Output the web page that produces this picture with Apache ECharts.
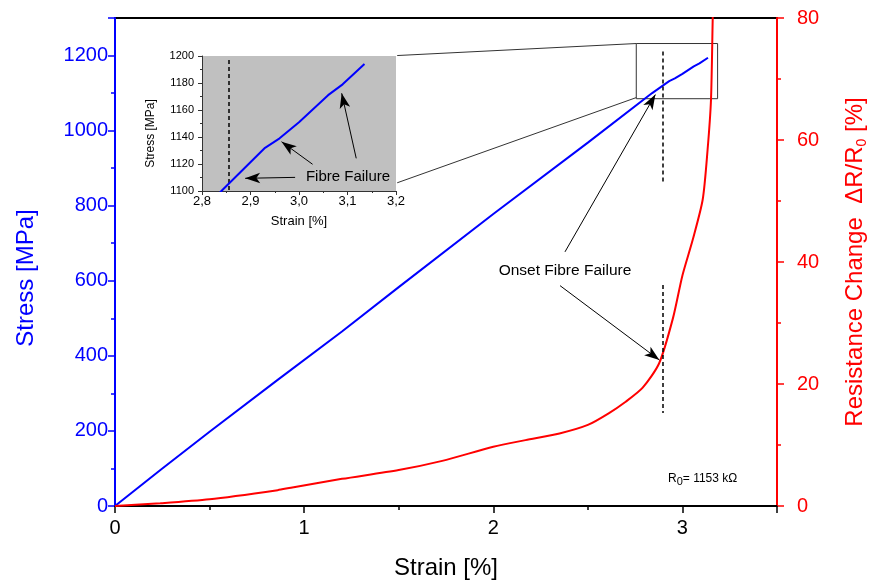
<!DOCTYPE html>
<html>
<head>
<meta charset="utf-8">
<script src="https://cdn.jsdelivr.net/npm/echarts@6/dist/echarts.min.js"></script>
<style>
  html, body { margin: 0; padding: 0; background: #fff; }
  #chart { width: 869px; height: 586px; }
</style>
</head>
<body>
<div id="chart"></div>
<script>
// stress curve (blue), strain in %, stress in MPa
const stressStrain = [0, 0.24, 0.5, 0.86, 1.2, 1.5, 2.0, 2.5, 2.84, 2.93, 2.96, 3.0, 3.06, 3.09, 3.135];
const stressValues = [0, 96, 198, 336, 465, 583, 778, 968, 1100, 1132, 1139, 1151, 1171, 1179, 1194];

// resistance change curve (red), dR/R0 in %
const resStrain = [0, 0.24, 0.5, 0.86, 0.93, 1.2, 1.5, 1.73, 2.0, 2.17, 2.35, 2.5, 2.61, 2.7, 2.79, 2.877, 2.95, 3.0, 3.054, 3.107, 3.133, 3.151, 3.16, 3.163];
const resValues = [0, 0.45, 1.1, 2.6, 3.0, 4.45, 5.9, 7.4, 9.7, 10.8, 11.9, 13.3, 15.2, 17.1, 19.4, 23.4, 30.8, 37.8, 43.6, 50.2, 58.4, 66.6, 79.7, 84];

const zip = (xs, ys) => xs.map((x, i) => [x, ys[i]]);

const FONT = 'Liberation Sans, Arial, sans-serif';
const BLUE = '#0000ff';
const RED = '#ff0000';

const chart = echarts.init(document.getElementById('chart'));

// helper for markLine segments (arrow at the end or plain)
function seg(a, b, arrow, style) {
    return [
        { coord: a, symbol: 'none' },
        { coord: b, symbol: arrow ? 'arrow' : 'none', symbolSize: [8, 15], lineStyle: style }
    ];
}
const arrowStyle = { color: '#000', width: 1, type: 'solid' };
const dashStyle = { color: '#000', width: 1.5, type: [4, 3] };
const thinStyle = { color: '#333', width: 1, type: 'solid' };
const plain = v => String(v);

const option = {
    animation: false,
    backgroundColor: '#fff',
    textStyle: { fontFamily: FONT },
    grid: [
        { left: 115, right: 92, top: 18, bottom: 80, outerBoundsMode: 'none', show: true, borderColor: '#000', borderWidth: 2, backgroundColor: 'transparent' },
        { left: 202, top: 56, width: 194, height: 135, outerBoundsMode: 'none', show: true, borderWidth: 0, backgroundColor: '#c0c0c0' }
    ],
    xAxis: [
        {
            gridIndex: 0, type: 'value', min: 0, max: 3.5, interval: 1,
            name: 'Strain [%]', nameLocation: 'middle', nameGap: 50,
            nameTextStyle: { fontSize: 24, color: '#000', fontFamily: FONT },
            axisLine: { lineStyle: { color: '#000', width: 2 } },
            axisTick: { inside: false, length: 7, lineStyle: { color: '#000', width: 1.5 } },
            minorTick: { show: true, splitNumber: 2, length: 4, lineStyle: { color: '#000', width: 1.5 } },
            splitLine: { show: false },
            axisLabel: { fontSize: 20, color: '#000', margin: 12, showMaxLabel: false, fontFamily: FONT, formatter: plain }
        },
        {
            gridIndex: 1, type: 'value', min: 2.8, max: 3.2, interval: 0.1,
            name: 'Strain [%]', nameLocation: 'middle', nameGap: 24,
            nameTextStyle: { fontSize: 13, color: '#000', fontFamily: FONT },
            axisLine: { lineStyle: { color: '#333', width: 1 } },
            axisTick: { length: 4, lineStyle: { color: '#333', width: 1 } },
            minorTick: { show: true, splitNumber: 2, length: 2, lineStyle: { color: '#333' } },
            splitLine: { show: false },
            axisLabel: {
                fontSize: 13, color: '#000', margin: 4, fontFamily: FONT,
                formatter: v => v.toFixed(1).replace('.', ',')
            }
        }
    ],
    yAxis: [
        {
            gridIndex: 0, type: 'value', position: 'left', min: 0, max: 1300, interval: 200,
            name: 'Stress [MPa]', nameLocation: 'middle', nameGap: 77, nameRotate: 90,
            nameTextStyle: { fontSize: 24, color: BLUE, fontFamily: FONT, padding: [0, 32, 0, 0] },
            axisLine: { show: true, lineStyle: { color: BLUE, width: 2 } },
            axisTick: { length: 7, lineStyle: { color: BLUE, width: 1.5 } },
            minorTick: { show: true, splitNumber: 2, length: 4, lineStyle: { color: BLUE, width: 1.5 } },
            splitLine: { show: false },
            axisLabel: { fontSize: 20, color: BLUE, margin: 7, showMaxLabel: false, fontFamily: FONT, formatter: plain }
        },
        {
            gridIndex: 0, type: 'value', position: 'right', min: 0, max: 80, interval: 20,
            name: 'Resistance Change  ΔR/R{sub|0} [%]', nameLocation: 'middle', nameGap: 64, nameRotate: 90,
            nameTextStyle: {
                fontSize: 24, color: RED, fontFamily: FONT, lineHeight: 28,
                rich: { sub: { fontSize: 14, color: RED, lineHeight: 8, verticalAlign: 'bottom', fontFamily: FONT } }
            },
            axisLine: { show: true, lineStyle: { color: RED, width: 2 } },
            axisTick: { length: 7, lineStyle: { color: RED, width: 1.5 } },
            minorTick: { show: true, splitNumber: 2, length: 4, lineStyle: { color: RED, width: 1.5 } },
            splitLine: { show: false },
            axisLabel: { fontSize: 20, color: RED, margin: 20, fontFamily: FONT, formatter: plain }
        },
        {
            gridIndex: 1, type: 'value', min: 1100, max: 1200, interval: 20,
            name: 'Stress [MPa]', nameLocation: 'middle', nameGap: 45, nameRotate: 90,
            nameTextStyle: { fontSize: 12, color: '#000', fontFamily: FONT, padding: [0, 20, 0, 0] },
            axisLine: { show: true, lineStyle: { color: '#333', width: 1 } },
            axisTick: { length: 4, lineStyle: { color: '#333', width: 1 } },
            minorTick: { show: true, splitNumber: 2, length: 2, lineStyle: { color: '#333' } },
            splitLine: { show: false },
            axisLabel: { fontSize: 11, color: '#000', margin: 8, fontFamily: FONT, formatter: plain }
        }
    ],
    series: [
        {
            name: 'Stress',
            type: 'line',
            xAxisIndex: 0, yAxisIndex: 0,
            data: zip(stressStrain, stressValues),
            showSymbol: false, symbol: 'none',
            lineStyle: { color: BLUE, width: 2 },
            z: 3,
            markArea: {
                silent: true,
                itemStyle: { color: 'rgba(0,0,0,0)', borderColor: '#333', borderWidth: 1 },
                data: [[{ coord: [2.756, 1085] }, { coord: [3.186, 1232] }]]
            },
            markLine: {
                silent: true,
                symbol: ['none', 'none'],
                label: { show: false },
                lineStyle: arrowStyle,
                data: [
                    seg([2.894, 1211], [2.894, 864], false, dashStyle),
                    seg([2.894, 589], [2.894, 248], false, dashStyle),
                    seg([2.379, 677], [2.857, 1096], true, arrowStyle),
                    seg([2.353, 587], [2.878, 389], true, arrowStyle),
                    seg([1.492, 1200], [2.756, 1232], false, thinStyle),
                    seg([1.492, 861], [2.756, 1088], false, thinStyle)
                ]
            }
        },
        {
            name: 'Resistance',
            type: 'line',
            xAxisIndex: 0, yAxisIndex: 1,
            data: zip(resStrain, resValues),
            showSymbol: false, symbol: 'none',
            smooth: 0.25,
            lineStyle: { color: RED, width: 2 },
            z: 3
        },
        {
            name: 'Stress inset',
            type: 'line',
            xAxisIndex: 1, yAxisIndex: 2,
            data: zip(stressStrain, stressValues),
            showSymbol: false, symbol: 'none',
            lineStyle: { color: BLUE, width: 2 },
            z: 5,
            markLine: {
                silent: true,
                symbol: ['none', 'none'],
                label: { show: false },
                lineStyle: arrowStyle,
                data: [
                    seg([2.856, 1197], [2.856, 1100], false, dashStyle),
                    seg([2.992, 1110.1], [2.889, 1109.4], true, arrowStyle),
                    seg([3.028, 1119.8], [2.964, 1136.5], true, arrowStyle),
                    seg([3.118, 1124.2], [3.088, 1172.4], true, arrowStyle)
                ]
            }
        }
    ],
    graphic: [
        {
            type: 'text', z: 100, x: 565, y: 271,
            style: { text: 'Onset Fibre Failure', fontSize: 15.5, fontFamily: FONT, fill: '#000', align: 'center', verticalAlign: 'middle' }
        },
        {
            type: 'text', z: 100, x: 348, y: 177,
            style: { text: 'Fibre Failure', fontSize: 15, fontFamily: FONT, fill: '#000', align: 'center', verticalAlign: 'middle' }
        },
        {
            type: 'text', z: 100, x: 668, y: 479,
            style: {
                text: '{a|R}{b|0}{a|= 1153 kΩ}',
                verticalAlign: 'middle',
                rich: {
                    a: { fontSize: 12, fontFamily: FONT, fill: '#000', lineHeight: 16 },
                    b: { fontSize: 11, fontFamily: FONT, fill: '#000', lineHeight: 6, verticalAlign: 'bottom' }
                }
            }
        }
    ]
};

chart.setOption(option);
window.addEventListener('resize', () => chart.resize());
</script>
</body>
</html>
